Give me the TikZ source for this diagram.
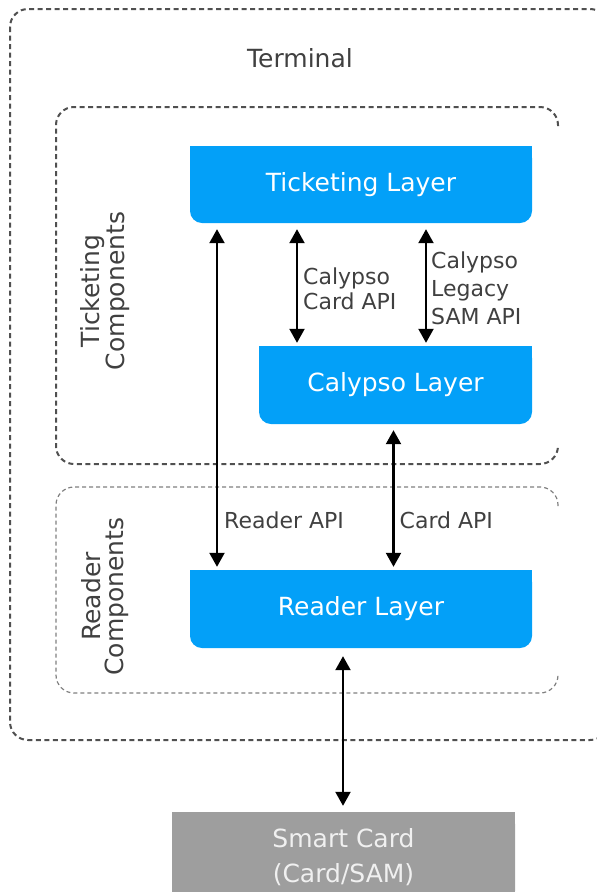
\documentclass[tikz,border=0pt]{standalone}
\usepackage{fontspec}
\setmainfont{DejaVu Sans}
\usetikzlibrary{arrows.meta}

\definecolor{layerBlue}{HTML}{03A0F8}
\definecolor{cardGray}{HTML}{9E9E9E}
\definecolor{textGray}{HTML}{404040}
\definecolor{lineGray}{HTML}{505050}

\begin{document}
\begin{tikzpicture}
[x=1pt,y=-1pt,
  layerDecorate/.style={fill=layerBlue,text=white,rounded corners=12pt,
    inner sep=0pt,font=\fontsize{25}{30}\selectfont},
  cardDecorate/.style={layerDecorate,fill=cardGray,text=white!94!black,
    align=center,font=\fontsize{25}{35}\selectfont},
  apiDecorate/.style={anchor=west,align=left,inner sep=0pt,text=textGray,
    font=\fontsize{22}{25}\selectfont},
  groupDecorate/.style={rotate=90,align=center,inner sep=0pt,text=textGray,
    font=\fontsize{25}{23.5}\selectfont},
  frameDecorate/.style={draw=lineGray,line width=2pt,
    dash pattern=on 5pt off 3.5pt,rounded corners=18pt},
  arrowDecorate/.style={arrows={Triangle[length=14pt,width=15pt]-Triangle[length=14pt,width=15pt]},
    line width=2.2pt}]
\useasboundingbox (0,0) rectangle (597,892);
\clip (0,0) rectangle (597,892);
%% dashed frames
\draw[frameDecorate] (10,9) rectangle (608,740);
\draw[frameDecorate] (558,126) -- (558,107) -- (56,107) -- (56,464) -- (558,464) -- (558,445);
\draw[frameDecorate,draw=gray,line width=1.2pt,dash pattern=on 4pt off 3pt]
  (558,506) -- (558,487) -- (56,487) -- (56,693) -- (558,693) -- (558,674);
%% layers
\node (ticketing) at (361,184.5) [layerDecorate,minimum width=342pt,minimum height=77pt] {Ticketing Layer};
\node (calypso) at (395.5,385) [layerDecorate,minimum width=273pt,minimum height=78pt] {Calypso Layer};
\node (reader) at (361,609) [layerDecorate,minimum width=342pt,minimum height=78pt] {Reader Layer};
\node (card) at (343.5,857.5) [cardDecorate,minimum width=343pt,minimum height=91pt] {Smart Card\\(Card/SAM)};
\foreach \boxname/\boxcolor in {ticketing/layerBlue,calypso/layerBlue,reader/layerBlue,card/cardGray}
{
  \fill[\boxcolor] (\boxname.north west) rectangle ++(14,14);
  \fill[\boxcolor] (\boxname.north east) rectangle ++(-14,14);
}
%% texts
\node (terminal) at (300,58) [text=textGray,font=\fontsize{25}{30}\selectfont] {Terminal};
\node (ticketgroup) at (105,291) [groupDecorate] {Ticketing\\Components};
\node (readergroup) at (105,596.5) [groupDecorate] {Reader\\Components};
\node (cardapi) at (303,289) [apiDecorate] {Calypso\\Card API};
\node (samapi) at (431,288) [apiDecorate,font=\fontsize{22}{28}\selectfont] {Calypso\\Legacy\\SAM API};
\node (readerapi) at (224,520.5) [apiDecorate] {Reader API};
\node (lowcardapi) at (399.5,520.5) [apiDecorate] {Card API};
%% connectors
\foreach \xpos/\startnode/\endnode/\gapa/\gapb in {
  217/ticketing/reader/6pt/3pt,
  297/ticketing/calypso/6pt/3pt,
  426/ticketing/calypso/6pt/3pt,
  393.5/calypso/reader/6pt/3pt,
  343/reader/card/8pt/6pt}
{
  \draw[arrowDecorate,shorten <=\gapa,shorten >=\gapb]
    (\xpos,0 |- \startnode.south) -- (\xpos,0 |- \endnode.north);
}
\end{tikzpicture}
\end{document}
